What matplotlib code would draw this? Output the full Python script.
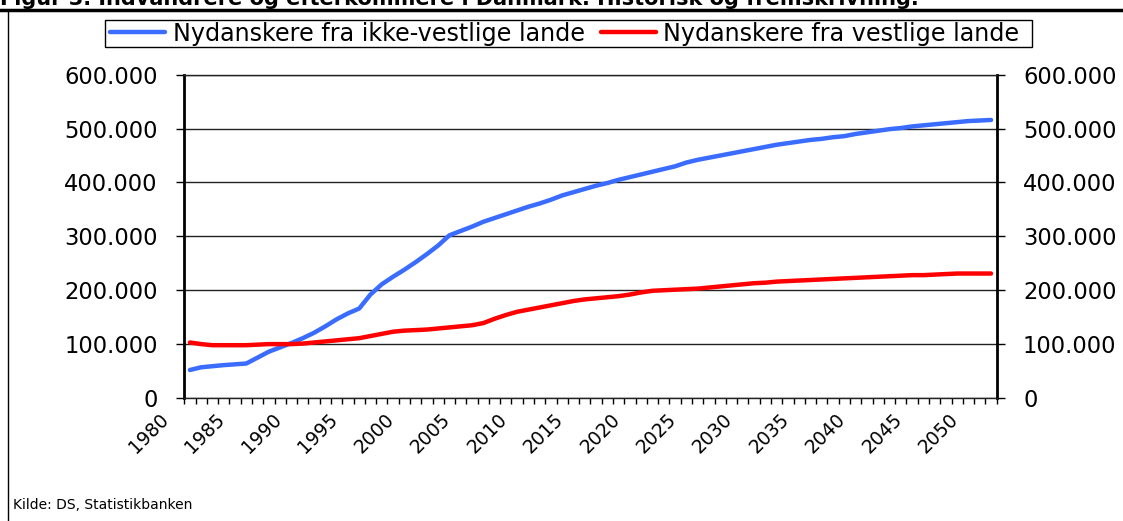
import matplotlib
matplotlib.use('Agg')
import matplotlib.pyplot as plt
import matplotlib.transforms as mtransforms
from matplotlib.ticker import FuncFormatter, FixedLocator, NullFormatter
import numpy as np

plt.rcParams['font.family'] = ['DejaVu Sans']

years = list(range(1980, 2052))

# ikke-vestlige lande, tusinder
ikke_vestlige = [52, 57, 59, 61, 62.5, 64, 75, 86, 94, 102,
                 111, 121, 133, 146, 157, 166, 192, 211, 225, 238,
                 252, 267, 283, 302, 310, 318, 327, 334, 341, 348,
                 355, 361, 368, 376, 382, 388, 394, 399, 405, 410,
                 415, 420, 425, 430, 437, 442, 446, 450, 454, 458,
                 462, 466, 470, 473, 476, 479, 481, 484, 486, 490,
                 493, 496, 499, 501, 504, 506, 508, 510, 512, 514,
                 515, 516]

# vestlige lande, tusinder
vestlige = [103, 100, 98, 98, 98, 98, 99, 100, 100, 100,
            101, 103, 105, 107, 109, 111, 115, 119, 123, 125,
            126, 127, 129, 131, 133, 135, 139, 147, 154, 160,
            164, 168, 172, 176, 180, 183, 185, 187, 189, 192,
            196, 199, 200, 201, 202, 203, 205, 207, 209, 211,
            213, 214, 216, 217, 218, 219, 220, 221, 222, 223,
            224, 225, 226, 227, 228, 228, 229, 230, 231, 231,
            231, 231]

label_years = list(range(1980, 2051, 5))
y_ticks = [0, 100000, 200000, 300000, 400000, 500000, 600000]

title = "Figur 3. Indvandrere og efterkommere i Danmark. Historisk og fremskrivning."
source = "Kilde: DS, Statistikbanken"
name_blue = "Nydanskere fra ikke-vestlige lande"
name_red = "Nydanskere fra vestlige lande"

W, H = 1123, 521
fig = plt.figure(figsize=(W / 100, H / 100), dpi=100)
ax = fig.add_axes([0.1641, 0.2361, 0.7234, 0.6205])

blue = np.array(ikke_vestlige) * 1000
red = np.array(vestlige) * 1000
l1, = ax.plot(years, blue, color='#3a6cff', lw=3.2, solid_capstyle='round', zorder=3)
l2, = ax.plot(years, red, color='#ff0000', lw=3.2, solid_capstyle='round', zorder=3)

ax.set_xlim(years[0] - 0.5, years[-1] + 0.5)
ax.set_ylim(0, 600000)

# y axis both sides
ax.yaxis.set_major_locator(FixedLocator(y_ticks))
ax.yaxis.set_major_formatter(FuncFormatter(lambda v, p: '{:,}'.format(int(v)).replace(',', '.')))
ax.tick_params(axis='y', which='major', direction='out', length=6, width=1,
               labelsize=16.3, pad=13, left=True, right=True, labelleft=True, labelright=True)
ax.yaxis.grid(True, color='#222222', lw=1)
ax.set_axisbelow(True)

# x axis: minor ticks between categories, labels every 5 year
ax.xaxis.set_minor_locator(FixedLocator([y - 0.5 for y in years] + [years[-1] + 0.5]))
ax.xaxis.set_major_locator(FixedLocator(label_years))
ax.xaxis.set_major_formatter(NullFormatter())
ax.tick_params(axis='x', which='minor', direction='out', length=4, width=1)
ax.tick_params(axis='x', which='major', length=0)
# labels sit a bit left of their category, like the original
offset = mtransforms.ScaledTranslation(-31 / 100, -12 / 100, fig.dpi_scale_trans)
for yr in label_years:
    ax.text(yr, 0, str(yr), transform=ax.get_xaxis_transform() + offset,
            rotation=45, ha='right', va='top', rotation_mode='anchor',
            fontsize=13.5, clip_on=False)

for s in ['left', 'right']:
    ax.spines[s].set_linewidth(2)
for s in ['top', 'bottom']:
    ax.spines[s].set_linewidth(1)
    ax.spines[s].set_color('#222222')

# legend without its own frame, box drawn separately (wider than content)
leg = fig.legend([l1, l2], [name_blue, name_red], loc='center',
                 bbox_to_anchor=(565 / W, 1 - 33.5 / H), ncol=2,
                 frameon=False, fontsize=17.2, handlelength=2.3, handletextpad=0.3,
                 columnspacing=0.7, borderpad=0.1, borderaxespad=0)
fig.add_artist(plt.Rectangle((105 / W, 1 - 47 / H), 927 / W, 27 / H,
                             transform=fig.transFigure, fill=False,
                             edgecolor='black', lw=1))

# header, frame lines and source
fig.text(0, 1 - 5 / H, title, fontsize=15, fontweight='bold', ha='left', va='baseline')
fig.add_artist(plt.Line2D([0, 1], [1 - 9.5 / H, 1 - 9.5 / H], color='black', lw=2.5))
fig.add_artist(plt.Line2D([8 / W, 8 / W], [0, 1 - 9.5 / H], color='black', lw=1))
fig.text(13 / W, 1 - 505 / H, source, fontsize=10, ha='left', va='center')

fig.savefig('out.png', dpi=100)
